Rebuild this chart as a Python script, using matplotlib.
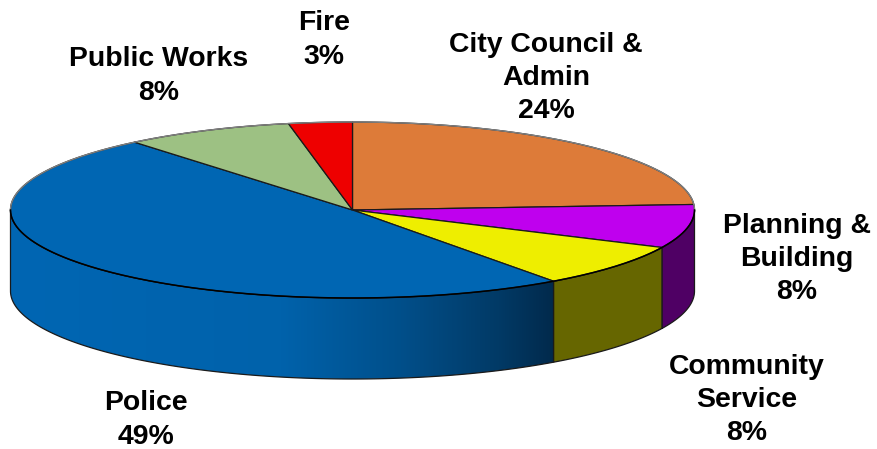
import numpy as np
import matplotlib
matplotlib.use("Agg")
import matplotlib.pyplot as plt
from matplotlib.colors import LinearSegmentedColormap
from matplotlib.patches import Polygon

# departments, clockwise from twelve o'clock
depts = ["City Council &\nAdmin", "Planning &\nBuilding", "Community\nService",
         "Police", "Public Works", "Fire"]
shares = [24, 8, 8, 49, 8, 3]
top_colors = ["#DD7B39", "#BF00EE", "#EEEE00", "#0066B3", "#9DC183", "#EE0000"]
side_colors = ["#8A4D24", "#4F0064", "#666600", "#0066B3", "#62794F", "#8A0000"]

# label centres, in pixels
label_x = [546, 797, 747, 146, 159, 324]
label_y = [78, 259, 400, 420, 76, 40]

cx, cy = 352.5, 210
rx, ry = 342, 88
depth = 81


def rim(a0, a1, n=200):
    t = np.radians(np.linspace(a0, a1, n))
    return cx + rx * np.cos(t), cy - ry * np.sin(t)


plt.rcParams["font.family"] = ["Liberation Sans", "DejaVu Sans"]
fig = plt.figure(figsize=(8.78, 4.49), dpi=100)
ax = fig.add_axes([0, 0, 1, 1])
ax.set_xlim(0, 878)
ax.set_ylim(449, 0)
ax.axis("off")

edges = 90 - np.cumsum([0] + shares) * 3.6

# side wall, only the front half of the rim shows
for i in range(len(shares)):
    hi, lo = edges[i], edges[i + 1]
    a0, a1 = min(hi, 0), max(lo, -180)
    if a0 <= a1:
        continue
    x, y = rim(a0, a1)
    pts = np.r_[np.c_[x, y], np.c_[x[::-1], y[::-1] + depth]]
    if depts[i] == "Police":
        wall = Polygon(pts, closed=True, fc="none", ec="none", zorder=2)
        ax.add_patch(wall)
        cmap = LinearSegmentedColormap.from_list(
            "wall", [(0, "#0066B3"), (0.5, "#0062AB"), (0.72, "#014F8A"),
                     (0.9, "#023A66"), (1, "#012A4C")])
        img = ax.imshow(np.linspace(0, 1, 256)[None, :], cmap=cmap, aspect="auto",
                        extent=(x.min(), x.max(), y.max() + depth, y.min()), zorder=2)
        img.set_clip_path(wall)
        ax.set_xlim(0, 878)
        ax.set_ylim(449, 0)
        ax.add_patch(Polygon(pts, closed=True, fc="none", ec="#1a1a1a", lw=0.9, zorder=3))
    else:
        ax.fill(pts[:, 0], pts[:, 1], fc=side_colors[i], ec="#1a1a1a", lw=0.9, zorder=2)

# top face
for i in range(len(shares)):
    x, y = rim(edges[i], edges[i + 1])
    ax.fill(np.r_[cx, x], np.r_[cy, y], fc=top_colors[i], ec="#1a1a1a", lw=0.9, zorder=4)

# back of the rim is softer than the front
x, y = rim(0, 180)
ax.plot(x, y, color="#808080", lw=1.0, zorder=5)
x, y = rim(180, 360)
ax.plot(x, y, color="black", lw=1.1, zorder=5)

for name, share, lx, ly in zip(depts, shares, label_x, label_y):
    ax.text(lx, ly, f"{name}\n{share}%", ha="center", va="center", fontsize=20.4,
            fontweight="bold", color="black", linespacing=1.36, zorder=6)

fig.savefig("out.png", dpi=100)
